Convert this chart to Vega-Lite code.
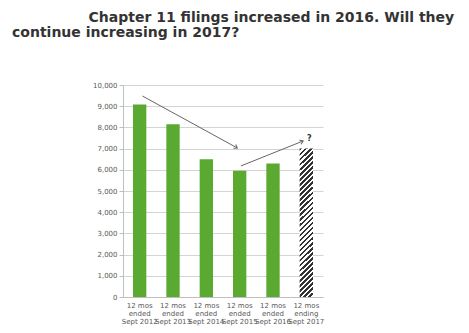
{
  "$schema": "https://vega.github.io/schema/vega-lite/v6.json",
  "autosize": {"type": "none"},
  "padding": {"left": 123, "top": 85, "right": 146, "bottom": 36},
  "width": 200,
  "height": 212,
  "background": "white",
  "title": {
    "text": ["\u2800\u2800\u2800\u2800\u2800\u2800\u2800Chapter 11 filings increased in 2016. Will they", "continue increasing in 2017?"],
    "anchor": "start",
    "frame": "group",
    "dx": -111,
    "offset": 41,
    "font": "DejaVu Sans",
    "fontWeight": "bold",
    "fontSize": 14,
    "lineHeight": 15,
    "color": "#333333"
  },
  "config": {
    "view": {"stroke": null},
    "font": "DejaVu Sans"
  },
  "datasets": {
    "bars": [
      {"period": "Sept 2012", "filings": 9080, "kind": "actual"},
      {"period": "Sept 2013", "filings": 8150, "kind": "actual"},
      {"period": "Sept 2014", "filings": 6500, "kind": "actual"},
      {"period": "Sept 2015", "filings": 5950, "kind": "actual"},
      {"period": "Sept 2016", "filings": 6300, "kind": "actual"},
      {"period": "Sept 2017", "filings": 7000, "kind": "projected"}
    ]
  },
  "layer": [
    {
      "data": {"name": "bars"},
      "transform": [{"filter": "datum.kind == 'actual'"}],
      "mark": {"type": "bar", "color": "#5aaa32"},
      "encoding": {
        "x": {
          "field": "period", "type": "nominal", "sort": null, "title": null,
          "scale": {"paddingInner": 0.6, "paddingOuter": 0.3},
          "axis": {
            "labelAngle": 0,
            "labelExpr": "['12 mos', datum.label == 'Sept 2017' ? 'ending' : 'ended', datum.label]",
            "labelFontSize": 7,
            "labelColor": "#595959",
            "labelLineHeight": 8,
            "labelPadding": 4,
            "labelOverlap": false,
            "ticks": false,
            "domainColor": "#bfbfbf"
          }
        },
        "y": {
          "field": "filings", "type": "quantitative", "title": null,
          "scale": {"domain": [0, 10000], "nice": false},
          "axis": {
            "tickCount": 10,
            "format": ",.0f",
            "labelOverlap": false,
            "labelFontSize": 7,
            "labelColor": "#595959",
            "gridColor": "#d4d4d4",
            "domainColor": "#bfbfbf",
            "tickColor": "#bfbfbf",
            "tickSize": 4,
            "labelPadding": 2
          }
        }
      }
    },
    {
      "data": {"name": "bars"},
      "transform": [{"filter": "datum.kind == 'projected'"}],
      "mark": {
        "type": "bar",
        "color": {
          "gradient": "linear",
          "x1": 0, "y1": 0, "x2": 0.095, "y2": 1.08,
          "stops": [
            {"offset": 0, "color": "#333333"},
            {"offset": 0.015625, "color": "#333333"}, {"offset": 0.015625, "color": "#ffffff"},
            {"offset": 0.03125, "color": "#ffffff"}, {"offset": 0.03125, "color": "#333333"},
            {"offset": 0.046875, "color": "#333333"}, {"offset": 0.046875, "color": "#ffffff"},
            {"offset": 0.0625, "color": "#ffffff"}, {"offset": 0.0625, "color": "#333333"},
            {"offset": 0.078125, "color": "#333333"}, {"offset": 0.078125, "color": "#ffffff"},
            {"offset": 0.09375, "color": "#ffffff"}, {"offset": 0.09375, "color": "#333333"},
            {"offset": 0.109375, "color": "#333333"}, {"offset": 0.109375, "color": "#ffffff"},
            {"offset": 0.125, "color": "#ffffff"}, {"offset": 0.125, "color": "#333333"},
            {"offset": 0.140625, "color": "#333333"}, {"offset": 0.140625, "color": "#ffffff"},
            {"offset": 0.15625, "color": "#ffffff"}, {"offset": 0.15625, "color": "#333333"},
            {"offset": 0.171875, "color": "#333333"}, {"offset": 0.171875, "color": "#ffffff"},
            {"offset": 0.1875, "color": "#ffffff"}, {"offset": 0.1875, "color": "#333333"},
            {"offset": 0.203125, "color": "#333333"}, {"offset": 0.203125, "color": "#ffffff"},
            {"offset": 0.21875, "color": "#ffffff"}, {"offset": 0.21875, "color": "#333333"},
            {"offset": 0.234375, "color": "#333333"}, {"offset": 0.234375, "color": "#ffffff"},
            {"offset": 0.25, "color": "#ffffff"}, {"offset": 0.25, "color": "#333333"},
            {"offset": 0.265625, "color": "#333333"}, {"offset": 0.265625, "color": "#ffffff"},
            {"offset": 0.28125, "color": "#ffffff"}, {"offset": 0.28125, "color": "#333333"},
            {"offset": 0.296875, "color": "#333333"}, {"offset": 0.296875, "color": "#ffffff"},
            {"offset": 0.3125, "color": "#ffffff"}, {"offset": 0.3125, "color": "#333333"},
            {"offset": 0.328125, "color": "#333333"}, {"offset": 0.328125, "color": "#ffffff"},
            {"offset": 0.34375, "color": "#ffffff"}, {"offset": 0.34375, "color": "#333333"},
            {"offset": 0.359375, "color": "#333333"}, {"offset": 0.359375, "color": "#ffffff"},
            {"offset": 0.375, "color": "#ffffff"}, {"offset": 0.375, "color": "#333333"},
            {"offset": 0.390625, "color": "#333333"}, {"offset": 0.390625, "color": "#ffffff"},
            {"offset": 0.40625, "color": "#ffffff"}, {"offset": 0.40625, "color": "#333333"},
            {"offset": 0.421875, "color": "#333333"}, {"offset": 0.421875, "color": "#ffffff"},
            {"offset": 0.4375, "color": "#ffffff"}, {"offset": 0.4375, "color": "#333333"},
            {"offset": 0.453125, "color": "#333333"}, {"offset": 0.453125, "color": "#ffffff"},
            {"offset": 0.46875, "color": "#ffffff"}, {"offset": 0.46875, "color": "#333333"},
            {"offset": 0.484375, "color": "#333333"}, {"offset": 0.484375, "color": "#ffffff"},
            {"offset": 0.5, "color": "#ffffff"}, {"offset": 0.5, "color": "#333333"},
            {"offset": 0.515625, "color": "#333333"}, {"offset": 0.515625, "color": "#ffffff"},
            {"offset": 0.53125, "color": "#ffffff"}, {"offset": 0.53125, "color": "#333333"},
            {"offset": 0.546875, "color": "#333333"}, {"offset": 0.546875, "color": "#ffffff"},
            {"offset": 0.5625, "color": "#ffffff"}, {"offset": 0.5625, "color": "#333333"},
            {"offset": 0.578125, "color": "#333333"}, {"offset": 0.578125, "color": "#ffffff"},
            {"offset": 0.59375, "color": "#ffffff"}, {"offset": 0.59375, "color": "#333333"},
            {"offset": 0.609375, "color": "#333333"}, {"offset": 0.609375, "color": "#ffffff"},
            {"offset": 0.625, "color": "#ffffff"}, {"offset": 0.625, "color": "#333333"},
            {"offset": 0.640625, "color": "#333333"}, {"offset": 0.640625, "color": "#ffffff"},
            {"offset": 0.65625, "color": "#ffffff"}, {"offset": 0.65625, "color": "#333333"},
            {"offset": 0.671875, "color": "#333333"}, {"offset": 0.671875, "color": "#ffffff"},
            {"offset": 0.6875, "color": "#ffffff"}, {"offset": 0.6875, "color": "#333333"},
            {"offset": 0.703125, "color": "#333333"}, {"offset": 0.703125, "color": "#ffffff"},
            {"offset": 0.71875, "color": "#ffffff"}, {"offset": 0.71875, "color": "#333333"},
            {"offset": 0.734375, "color": "#333333"}, {"offset": 0.734375, "color": "#ffffff"},
            {"offset": 0.75, "color": "#ffffff"}, {"offset": 0.75, "color": "#333333"},
            {"offset": 0.765625, "color": "#333333"}, {"offset": 0.765625, "color": "#ffffff"},
            {"offset": 0.78125, "color": "#ffffff"}, {"offset": 0.78125, "color": "#333333"},
            {"offset": 0.796875, "color": "#333333"}, {"offset": 0.796875, "color": "#ffffff"},
            {"offset": 0.8125, "color": "#ffffff"}, {"offset": 0.8125, "color": "#333333"},
            {"offset": 0.828125, "color": "#333333"}, {"offset": 0.828125, "color": "#ffffff"},
            {"offset": 0.84375, "color": "#ffffff"}, {"offset": 0.84375, "color": "#333333"},
            {"offset": 0.859375, "color": "#333333"}, {"offset": 0.859375, "color": "#ffffff"},
            {"offset": 0.875, "color": "#ffffff"}, {"offset": 0.875, "color": "#333333"},
            {"offset": 0.890625, "color": "#333333"}, {"offset": 0.890625, "color": "#ffffff"},
            {"offset": 0.90625, "color": "#ffffff"}, {"offset": 0.90625, "color": "#333333"},
            {"offset": 0.921875, "color": "#333333"}, {"offset": 0.921875, "color": "#ffffff"},
            {"offset": 0.9375, "color": "#ffffff"}, {"offset": 0.9375, "color": "#333333"},
            {"offset": 0.953125, "color": "#333333"}, {"offset": 0.953125, "color": "#ffffff"},
            {"offset": 0.96875, "color": "#ffffff"}, {"offset": 0.96875, "color": "#333333"},
            {"offset": 0.984375, "color": "#333333"}, {"offset": 0.984375, "color": "#ffffff"},
            {"offset": 1, "color": "#ffffff"}
          ]
        }
      },
      "encoding": {
        "x": {"field": "period", "type": "nominal", "sort": null},
        "y": {"field": "filings", "type": "quantitative"}
      }
    },
    {
      "data": {"values": [{"from": "Sept 2012", "to": "Sept 2015", "start": 9480, "end": 7030}]},
      "mark": {"type": "rule", "color": "#666666", "strokeWidth": 1},
      "encoding": {
        "x": {"field": "from", "type": "nominal", "bandPosition": 0.71},
        "x2": {"field": "to", "bandPosition": 0.32},
        "y": {"field": "start", "type": "quantitative"},
        "y2": {"field": "end"}
      }
    },
    {
      "data": {"values": [{"to": "Sept 2015", "end": 7030}]},
      "mark": {"type": "point", "shape": "M-1,-0.7L0,0L-1,0.7", "filled": false, "color": "#666666", "strokeWidth": 1, "size": 40, "angle": 31, "opacity": 1},
      "encoding": {
        "x": {"field": "to", "type": "nominal", "bandPosition": 0.32},
        "y": {"field": "end", "type": "quantitative"}
      }
    },
    {
      "data": {"values": [{"from": "Sept 2015", "to": "Sept 2017", "start": 6180, "end": 7360}]},
      "mark": {"type": "rule", "color": "#666666", "strokeWidth": 1},
      "encoding": {
        "x": {"field": "from", "type": "nominal", "bandPosition": 0.59},
        "x2": {"field": "to", "bandPosition": 0.26},
        "y": {"field": "start", "type": "quantitative"},
        "y2": {"field": "end"}
      }
    },
    {
      "data": {"values": [{"to": "Sept 2017", "end": 7360}]},
      "mark": {"type": "point", "shape": "M-1,-0.7L0,0L-1,0.7", "filled": false, "color": "#666666", "strokeWidth": 1, "size": 40, "angle": 336, "opacity": 1},
      "encoding": {
        "x": {"field": "to", "type": "nominal", "bandPosition": 0.26},
        "y": {"field": "end", "type": "quantitative"}
      }
    },
    {
      "data": {"values": [{"at": "Sept 2017", "level": 7430, "label": "?"}]},
      "mark": {"type": "text", "fontWeight": "bold", "fontSize": 8, "color": "#333333", "baseline": "middle", "dx": 3},
      "encoding": {
        "x": {"field": "at", "type": "nominal"},
        "y": {"field": "level", "type": "quantitative"},
        "text": {"field": "label"}
      }
    }
  ]
}
